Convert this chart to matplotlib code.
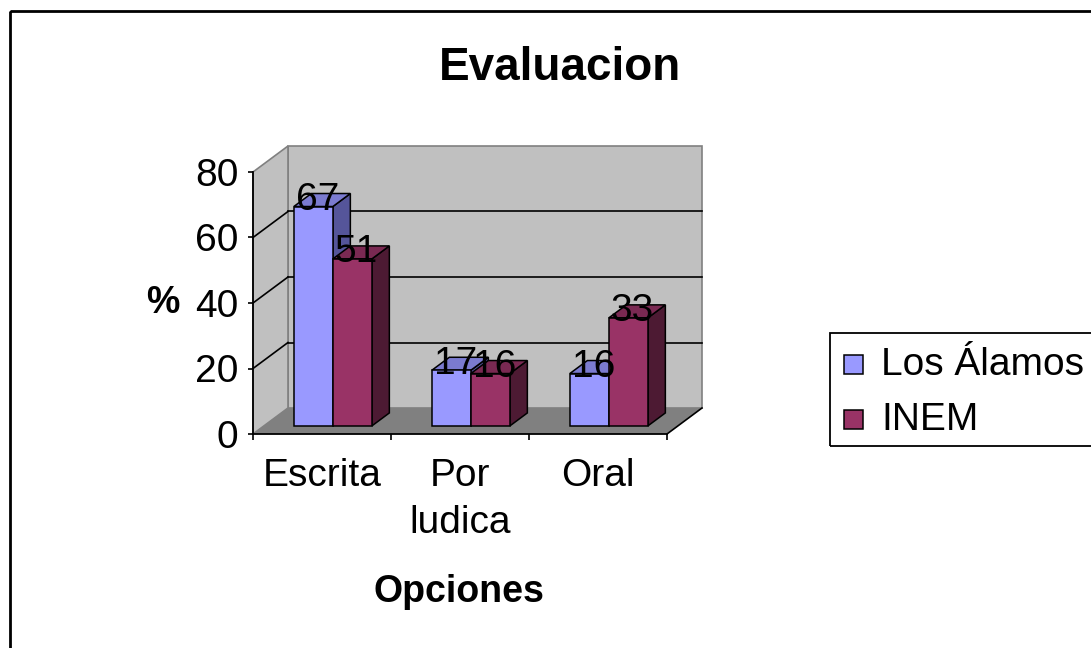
import matplotlib.pyplot as plt
from matplotlib.patches import Polygon, Rectangle

plt.rcParams['font.family'] = ['Liberation Sans', 'DejaVu Sans']

# ---------------------------------------------------------
# Data
# ---------------------------------------------------------
categories = ["Escrita", "Por\nludica", "Oral"]
series_names = ["Los Álamos", "INEM"]
los_alamos = [67, 17, 16]
inem = [51, 16, 33]
y_ticks = [0, 20, 40, 60, 80]

# ---------------------------------------------------------
# Style (Excel 2003 style 3D columns)
# ---------------------------------------------------------
W, H = 1091, 648
front_colors = ["#9999ff", "#993366"]
top_colors = ["#7b7bd0", "#7a2952"]
side_colors = ["#55559a", "#4d1a33"]
wall_color = "#c0c0c0"
floor_color = "#808080"


def fx(px):
    return px / W


def fy(py):
    return 1 - py / H


fig = plt.figure(figsize=(W / 100, H / 100), dpi=100)

# outer chart frame, runs off the right and bottom edges
fig.patches.append(Rectangle((fx(10), fy(11)), 1.5, -1.5, transform=fig.transFigure,
                             fill=False, ec="black", lw=2))

# plot area = front floor plane
ax = fig.add_axes([fx(253), fy(434), (667 - 253) / W, (434 - 172) / H])
ax.set_xlim(0, len(categories))
ax.set_ylim(0, 80)
ax.patch.set_visible(False)

# depth vector of the 3D box in data units
DX = 35 / (414 / 3)
DY = 26 / (262 / 80)
top = y_ticks[-1]
n = len(categories)

# walls and floor
back = Polygon([(DX, DY), (n + DX, DY), (n + DX, top + DY), (DX, top + DY)],
               fc=wall_color, ec="#808080", lw=1.2, zorder=0, clip_on=False)
side = Polygon([(0, 0), (DX, DY), (DX, top + DY), (0, top)],
               fc=wall_color, ec="#808080", lw=1.2, zorder=0, clip_on=False)
floor = Polygon([(0, 0), (n, 0), (n + DX, DY), (DX, DY)],
                fc=floor_color, ec="none", zorder=0.5, clip_on=False)
for p in (back, side, floor):
    ax.add_patch(p)
ax.plot([n, n + DX], [0, DY], color="black", lw=1.2, zorder=1, clip_on=False)

# gridlines on the back and side walls
for v in y_ticks[1:-1]:
    ax.plot([DX, n + DX], [v + DY, v + DY], color="black", lw=1.2, zorder=1, clip_on=False)
    ax.plot([0, DX], [v, v + DY], color="black", lw=1.2, zorder=1, clip_on=False)

# ---------------------------------------------------------
# Bars
# ---------------------------------------------------------
w = 39 / (414 / 3)
f1, f2 = 0.31, 0.81
fm = (f1 + f2) / 2


def draw_bar(x0, v, k, z):
    x1 = x0 + w
    a, b = f1, f2
    sidef = [(x1 + a * DX, a * DY), (x1 + b * DX, b * DY), (x1 + b * DX, v + b * DY), (x1 + a * DX, v + a * DY)]
    topf = [(x0 + a * DX, v + a * DY), (x1 + a * DX, v + a * DY), (x1 + b * DX, v + b * DY), (x0 + b * DX, v + b * DY)]
    front = [(x0 + a * DX, a * DY), (x1 + a * DX, a * DY), (x1 + a * DX, v + a * DY), (x0 + a * DX, v + a * DY)]
    for pts, c in ((sidef, side_colors[k]), (topf, top_colors[k]), (front, front_colors[k])):
        ax.add_patch(Polygon(pts, fc=c, ec="black", lw=1.1, zorder=z, clip_on=False))


z = 3
for i in range(n):
    for k, vals in enumerate([los_alamos, inem]):
        x0 = i + 0.5 - w + k * w
        draw_bar(x0, vals[i], k, z)
        z += 1
        ax.text(x0 + w / 2 + (f1 + 0.12) * DX, vals[i] + fm * DY, str(vals[i]), ha="center", va="center",
                fontsize=28, zorder=20, clip_on=False)

# ---------------------------------------------------------
# Axes
# ---------------------------------------------------------
for s in ("top", "right"):
    ax.spines[s].set_visible(False)
for s in ("left", "bottom"):
    ax.spines[s].set_linewidth(1.3)
    ax.spines[s].set_zorder(2)

ax.set_yticks(y_ticks)
ax.tick_params(axis="y", direction="out", length=3.6, width=1.2, labelsize=28, pad=7)
ax.set_xticks(range(n + 1))
ax.set_xticklabels([])
ax.set_xticks([i + 0.5 for i in range(n)], minor=True)
ax.set_xticklabels(categories, minor=True, fontsize=28, linespacing=1.4)
ax.tick_params(axis="x", which="major", direction="out", length=4, width=1.2)
ax.tick_params(axis="x", which="minor", length=0, pad=17)

fig.text(fx(560), fy(68), "Evaluacion", fontsize=33, fontweight="bold", ha="center", va="center")
fig.text(fx(163), fy(303), "%", fontsize=27, fontweight="bold", ha="center", va="center")
fig.text(fx(459), fy(592), "Opciones", fontsize=27, fontweight="bold", ha="center", va="center")

# ---------------------------------------------------------
# Legend (box runs past the right edge, as in the original)
# ---------------------------------------------------------
fig.patches.append(Rectangle((fx(830), fy(446)), 0.5, (446 - 333) / H, transform=fig.transFigure,
                             fill=False, ec="black", lw=1.3))
for k, (name, yc) in enumerate(zip(series_names, [365, 420])):
    fig.patches.append(Rectangle((fx(844), fy(yc + 9)), 19 / W, 19 / H, transform=fig.transFigure,
                                 fc=front_colors[k], ec="black", lw=1.1))
    fig.text(fx(881), fy(yc), name, fontsize=28, ha="left", va="center")

fig.savefig("out.png", dpi=100)
